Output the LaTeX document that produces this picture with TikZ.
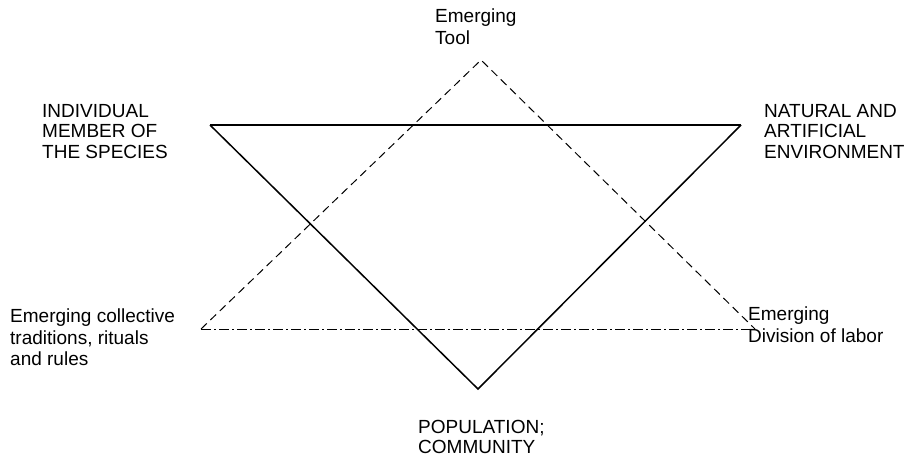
\documentclass[tikz,border=0pt]{standalone}
\usepackage{fontspec}
\setmainfont{Liberation Sans}
\begin{document}
\begin{tikzpicture}[x=1pt,y=-1pt,
  lbl/.style={anchor=north west,inner sep=0pt,align=left,font=\fontsize{19}{21.5}\selectfont},
  caplbl/.style={lbl,font=\fontsize{19}{20.5}\selectfont},
  solidedge/.style={line width=1.5pt,line join=miter},
  dashedge/.style={line width=1pt,dash pattern=on 8pt off 5pt},
  dashdotedge/.style={line width=1pt,dash pattern=on 10pt off 3pt on 2pt off 3pt}]
\useasboundingbox (0,0) rectangle (910,460);
% solid triangle
\coordinate (ind) at (210,125);
\coordinate (nat) at (741,125);
\coordinate (pop) at (478,389);
% dashed triangle
\coordinate (tool) at (481,60);
\coordinate (trad) at (201,329);
\coordinate (div) at (755,329);
\draw[dashedge] (trad) -- (tool) -- (div);
\draw[dashdotedge] (trad) -- (div);
\draw[solidedge] (ind) -- (pop) -- (nat);
\draw[line width=2.2pt] (ind) -- (nat);
\node[caplbl] (tIndividual) at (42,104) {INDIVIDUAL\\MEMBER OF\\THE SPECIES};
\node[caplbl] (tNatural) at (764,104) {NATURAL AND\\ARTIFICIAL\\ENVIRONMENT};
\node[lbl] (tTool) at (435,9) {Emerging\\Tool};
\node[lbl] (tTrad) at (10,309) {Emerging collective\\traditions, rituals\\and rules};
\node[lbl] (tDiv) at (748,307) {Emerging\\Division of labor};
\node[caplbl] (tPop) at (418,420) {POPULATION;\\COMMUNITY};
\end{tikzpicture}
\end{document}
